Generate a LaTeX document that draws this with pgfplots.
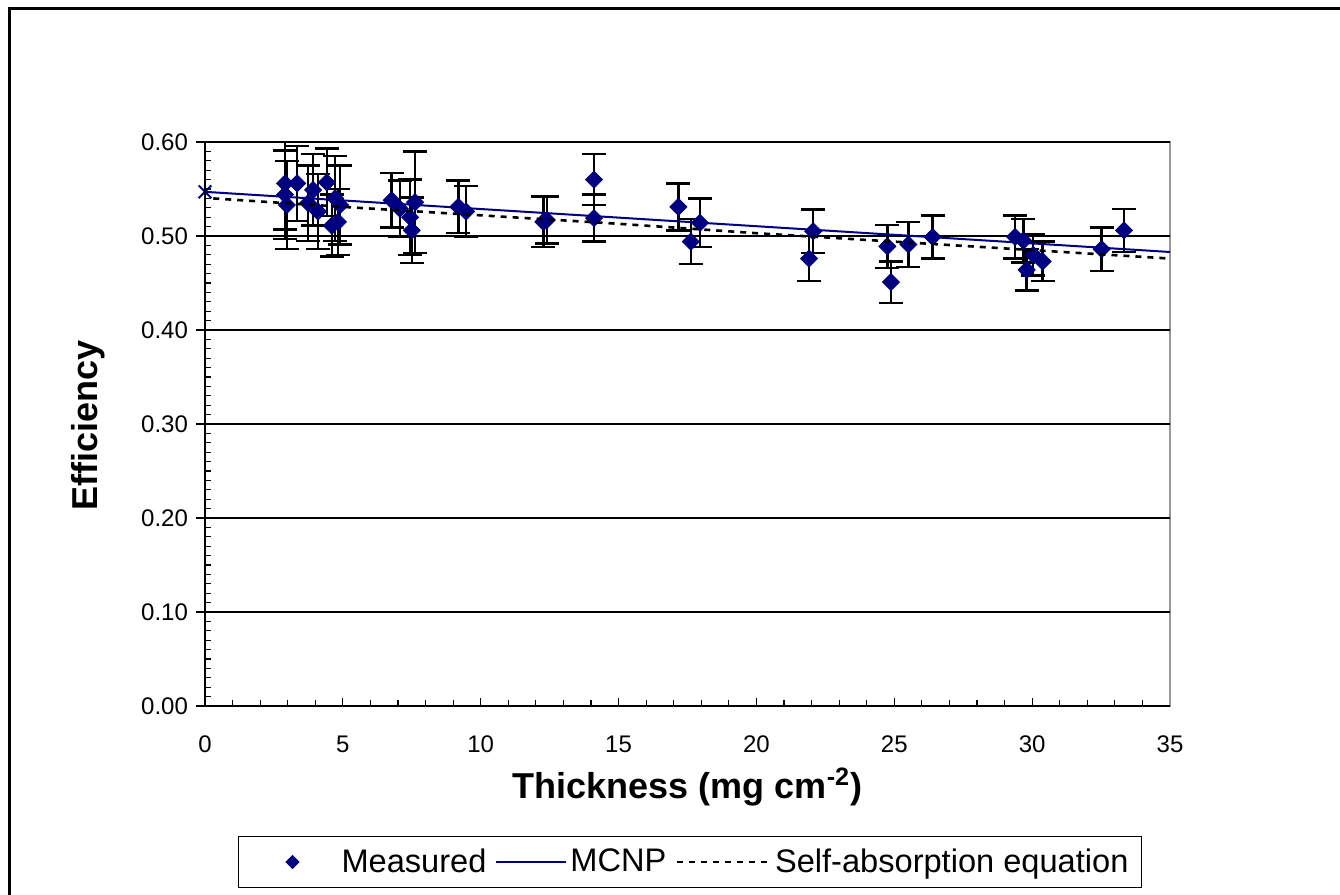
\documentclass[border=0pt]{standalone}
\usepackage{fontspec}
\setmainfont{Liberation Sans}
\usepackage{pgfplots}
\pgfplotsset{compat=1.18}
\usepackage{pgfplotstable}
\definecolor{navy}{RGB}{0,0,128}
\pgfplotsset{
  legline/.style={legend image code/.code={\draw[##1] (0pt,0pt) -- (#1,0pt);}},
  legmark/.style={legend image code/.code={\path[draw=none,fill=none] (0pt,-0.1pt) rectangle (45pt,0.1pt); \draw[mark repeat=2, mark phase=2, ##1, only marks, mark size=2.2pt] plot coordinates {(0pt,0pt) (22pt,0pt) (44pt,0pt)};}},
}

\pgfplotstableread{
x y e
2.90 0.556 0.049
3.34 0.556 0.040
2.90 0.544 0.047
2.97 0.533 0.047
3.74 0.535 0.040
3.92 0.549 0.038
4.10 0.526 0.040
4.42 0.557 0.036
4.60 0.511 0.033
4.72 0.540 0.045
4.82 0.515 0.035
4.90 0.533 0.042
6.77 0.538 0.029
7.07 0.529 0.030
7.44 0.520 0.040
7.62 0.536 0.054
7.50 0.506 0.035
9.19 0.531 0.028
9.47 0.526 0.027
12.27 0.515 0.027
12.40 0.517 0.025
14.11 0.560 0.027
14.11 0.519 0.025
17.17 0.531 0.025
17.62 0.494 0.024
17.95 0.514 0.026
21.91 0.476 0.024
22.06 0.505 0.023
24.75 0.489 0.023
24.88 0.451 0.022
25.51 0.491 0.024
26.39 0.499 0.023
29.38 0.499 0.023
29.68 0.495 0.023
29.80 0.464 0.022
30.04 0.480 0.022
30.38 0.473 0.021
32.52 0.486 0.023
33.33 0.506 0.023
}\measured

\pgfplotstableread{
x y
0 0.547
35 0.483
}\mcnp

\pgfplotstableread{
x y
0.3 0.540
5 0.531
10 0.522
15 0.513
20 0.503
25 0.494
30 0.485
35 0.476
}\selfabs

\begin{document}
\begin{tikzpicture}
\useasboundingbox (0,0) rectangle (670pt,447.5pt);
\fill[white] (0,0) rectangle (670pt,447.5pt);
\draw[line width=1.5pt] (4.5pt,-20pt) -- (4.5pt,443pt) -- (700pt,443pt);
\begin{axis}[
  at={(102.5pt,94.5pt)}, anchor=south west,
  scale only axis, width=482.5pt, height=282pt,
  xmin=0, xmax=35, ymin=0, ymax=0.6,
  xtick={0,5,...,35},
  ytick={0,0.1,0.2,0.3,0.4,0.5,0.6},
  minor x tick num=4, minor y tick num=9,
  tick pos=left,
  tick align=inside, major tick length=4pt, minor tick length=3pt,
  tick style={black, line width=0.6pt},
  ymajorgrids, major grid style={black, line width=0.6pt},
  axis line style={gray!80, line width=1pt},
  extra y ticks={0,0.1,0.2,0.3,0.4,0.5,0.6},
  extra y tick labels={},
  extra y tick style={tick align=outside, major tick length=4.5pt},
  /pgf/number format/assume math mode=true,
  yticklabel style={/pgf/number format/fixed, /pgf/number format/fixed zerofill, /pgf/number format/precision=2, font=\fontsize{12}{14}\selectfont, xshift=-5pt},
  xticklabel style={font=\fontsize{12}{14}\selectfont, yshift=-11.5pt},
  xlabel={Thickness (mg cm\textsuperscript{-2})},
  ylabel={Efficiency},
  xlabel style={at={(axis description cs:0.5,-0.1436)}, anchor=center, font=\fontsize{18}{21}\selectfont\bfseries},
  ylabel style={at={(axis description cs:-0.1212,0.498)}, anchor=center, font=\fontsize{18}{21}\selectfont\bfseries},
  clip mode=individual,
  legend style={at={(axis description cs:0.5026,-0.2766)}, anchor=center, legend columns=3, draw=black, line width=0.6pt, fill=white, font=\fontsize{16.3}{19}\selectfont, nodes={inner xsep=1.5pt}, /tikz/every even column/.append style={column sep=3pt}, inner xsep=5pt, inner ysep=4pt},
]
\addplot[only marks, mark=square*, mark options={rotate=45}, mark size=3pt, color=navy, legmark,
  error bars/.cd, y dir=both, y explicit,
  error bar style={black, line width=1.2pt},
  error mark options={black, rotate=90, mark size=6pt, line width=1.2pt},
  ] table[x=x, y=y, y error=e] {\measured};
\addlegendentry{Measured}
\addplot[navy, line width=1pt, no marks, legline=35pt] table[x=x,y=y] {\mcnp};
\addlegendentry{MCNP}
\addplot[black, line width=1.3pt, dash pattern=on 3pt off 3pt, no marks, legline=47pt] table[x=x,y=y] {\selfabs};
\addlegendentry{Self-absorption equation}
\addplot[only marks, mark=x, mark size=4.5pt, navy, line width=1pt, forget plot] coordinates {(0,0.547)};
\draw[black, line width=1pt] (axis cs:0,0.6) -- (axis cs:0,0) -- (axis cs:35,0);
\end{axis}
\end{tikzpicture}
\end{document}
